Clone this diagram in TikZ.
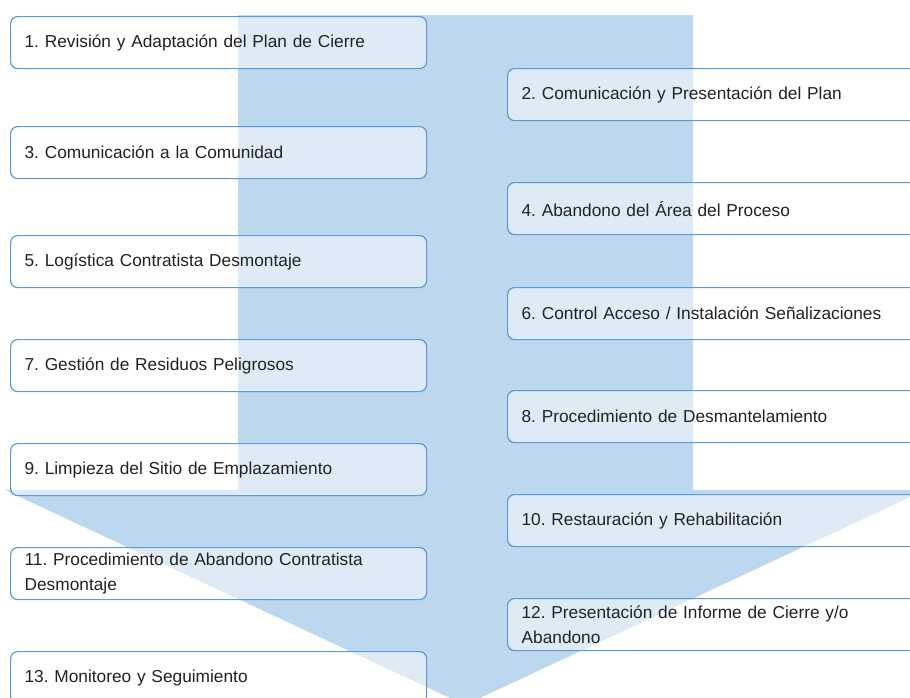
\documentclass[tikz,border=0pt]{standalone}
\usepackage{fontspec}
\setmainfont{Liberation Sans}
\frenchspacing
\definecolor{arrowblue}{HTML}{BDD7EE}
\definecolor{boxline}{HTML}{5B9BD5}
\definecolor{textgray}{HTML}{222222}
\tikzset{
  stepbox/.style={draw=boxline, line width=1.2pt, rounded corners=7pt,
    fill=white, fill opacity=0.5, text opacity=1,
    minimum width=416pt, minimum height=52pt, text width=388pt,
    inner xsep=14pt, inner ysep=0pt, align=left, anchor=north west,
    font=\fontsize{17.3}{25}\selectfont\frenchspacing, text=textgray},
  bigarrow/.style={fill=arrowblue, draw=none}
}
\begin{document}
\begin{tikzpicture}[x=1pt,y=-1pt]
\useasboundingbox (0,0) rectangle (910,697);
\clip (0,0) rectangle (910,697);
\fill[white] (0,0) rectangle (910,697);
% big arrow
\fill[bigarrow] (238,15) -- (693,15) -- (693,490) -- (925,490) -- (465,705)
  -- (5,490) -- (238,490) -- cycle;
% left column
\node[stepbox] (s1)  at (10,16)  {1. Revisión y Adaptación del Plan de Cierre};
\node[stepbox] (s3)  at (10,126) {3. Comunicación a la Comunidad};
\node[stepbox] (s5)  at (10,235) {5. Logística Contratista Desmontaje};
\node[stepbox] (s7)  at (10,339) {7. Gestión de Residuos Peligrosos};
\node[stepbox] (s9)  at (10,443) {9. Limpieza del Sitio de Emplazamiento};
\node[stepbox] (s11) at (10,547) {11. Procedimiento de Abandono Contratista\\Desmontaje};
\node[stepbox] (s13) at (10,651) {13. Monitoreo y Seguimiento};
% right column
\node[stepbox] (s2)  at (507,68)  {2. Comunicación y Presentación del Plan};
\node[stepbox] (s4)  at (507,182) {4. Abandono del Área del Proceso};
\node[stepbox] (s6)  at (507,287) {6. Control Acceso / Instalación Señalizaciones};
\node[stepbox] (s8)  at (507,390) {8. Procedimiento de Desmantelamiento};
\node[stepbox] (s10) at (507,494) {10. Restauración y Rehabilitación};
\node[stepbox] (s12) at (507,598) {12. Presentación de Informe de Cierre y/o\\Abandono};
\end{tikzpicture}
\end{document}
